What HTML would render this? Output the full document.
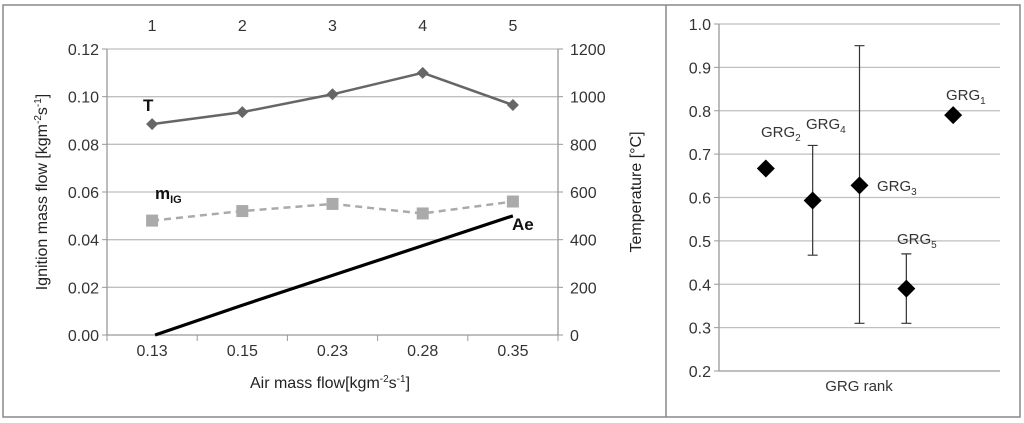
<!DOCTYPE html>
<html><head><meta charset="utf-8"><style>
body{margin:0;background:#fff;}
svg{display:block;font-family:"Liberation Sans",sans-serif;}
</style></head><body>
<svg width="1024" height="423" viewBox="0 0 1024 423">
<rect x="3" y="5" width="1017" height="412" fill="#fff" stroke="#888" stroke-width="1.5"/>
<line x1="666" y1="5" x2="666" y2="417" stroke="#888" stroke-width="1.5"/>
<g id="left"></g>
<g id="right"></g>
</svg>
<script>
const cats=["0.13","0.15","0.23","0.28","0.35"];
const topCats=["1","2","3","4","5"];
const tempVals=[885,935,1010,1100,965];
const migVals=[0.048,0.052,0.055,0.051,0.056];
const aeVals=[0,0.0125,0.025,0.0375,0.05];
const leftTicks=[0,0.02,0.04,0.06,0.08,0.10,0.12];
const rightTicks=[0,200,400,600,800,1000,1200];
const grgVals=[0.667,0.593,0.628,0.39,0.79];
const grgLow=[null,0.467,0.31,0.31,null];
const grgHigh=[null,0.72,0.95,0.47,null];
const grgLabels=["2","4","3","5","1"];
const grgTicks=[0.2,0.3,0.4,0.5,0.6,0.7,0.8,0.9,1.0];

const NS="http://www.w3.org/2000/svg";
function mk(p,t,a,txt){const e=document.createElementNS(NS,t);for(const k in a)e.setAttribute(k,a[k]);if(txt!==undefined)e.textContent=txt;p.appendChild(e);return e;}

// left chart
const L=document.getElementById('left');
const x0=107,x1=558,yTop=49,yBot=335;
const bw=(x1-x0)/cats.length;
const xc=i=>x0+bw*(i+0.5);
const yL=v=>yBot-(v/0.12)*(yBot-yTop);
const yR=v=>yBot-(v/1200)*(yBot-yTop);
leftTicks.forEach((t,i)=>{
  if(i>0){const g=mk(L,'line',{x1:x0,x2:x1,y1:yL(t),y2:yL(t),stroke:'#bfbfbf','stroke-width':1.3});
  }
  const tl=mk(L,'line',{x1:x0-5,x2:x0,y1:yL(t),y2:yL(t),stroke:'#999'});
  const lb=mk(L,'text',{x:x0-8,y:yL(t)+6,'text-anchor':'end','font-size':16,fill:'#333'},t.toFixed(2));
  
});
rightTicks.forEach(t=>{
  mk(L,'line',{x1:x1,x2:x1+5,y1:yR(t),y2:yR(t),stroke:'#999'});
  const lb=mk(L,'text',{x:x1+12,y:yR(t)+6,'font-size':16,fill:'#333'},String(t));
  
});
mk(L,'line',{x1:x0,x2:x0,y1:yTop,y2:yBot,stroke:'#999','stroke-width':1.3});
mk(L,'line',{x1:x1,x2:x1,y1:yTop,y2:yBot,stroke:'#999','stroke-width':1.3});
mk(L,'line',{x1:x0,x2:x1,y1:yBot,y2:yBot,stroke:'#999','stroke-width':1.3});
cats.forEach((c,i)=>{
  mk(L,'line',{x1:x0+bw*i,x2:x0+bw*i,y1:yBot,y2:yBot+6,stroke:'#999'});
  const lb=mk(L,'text',{x:xc(i),y:356,'text-anchor':'middle','font-size':16,fill:'#333'},c);
  
  const tp=mk(L,'text',{x:xc(i),y:31,'text-anchor':'middle','font-size':16,fill:'#333'},topCats[i]);
  
});
mk(L,'line',{x1:x0+bw*5,x2:x0+bw*5,y1:yBot,y2:yBot+6,stroke:'#999'});
// Ae line
const ae=mk(L,'polyline',{points:aeVals.map((v,i)=>(xc(i)+(i==0?3:0))+','+yL(v)).join(' '),fill:'none',stroke:'#000','stroke-width':3.2});

// mIG
const mg=mk(L,'polyline',{points:migVals.map((v,i)=>xc(i)+','+yL(v)).join(' '),fill:'none',stroke:'#aaa','stroke-width':2.5,'stroke-dasharray':'7,5'});

migVals.forEach((v,i)=>{const r=mk(L,'rect',{x:xc(i)-6,y:yL(v)-6,width:12,height:12,fill:'#aaa'});
});
// T
const tl=mk(L,'polyline',{points:tempVals.map((v,i)=>xc(i)+','+yR(v)).join(' '),fill:'none',stroke:'#666','stroke-width':2.5});

tempVals.forEach((v,i)=>{const x=xc(i),y=yR(v);const d=mk(L,'polygon',{points:`${x},${y-6} ${x+6},${y} ${x},${y+6} ${x-6},${y}`,fill:'#666'});
});
let t;
t=mk(L,'text',{x:143,y:111,'font-size':17,'font-weight':'bold',fill:'#111'},'T');
t=mk(L,'text',{x:155,y:199,'font-size':17,'font-weight':'bold',fill:'#111'});
mk(t,'tspan',{},'m');mk(t,'tspan',{'font-size':11,dy:4},'IG');
t=mk(L,'text',{x:512,y:230,'font-size':17,'font-weight':'bold',fill:'#111'},'Ae');
t=mk(L,'text',{x:330,y:388,'text-anchor':'middle','font-size':16,fill:'#222'});
mk(t,'tspan',{},'Air mass flow[kgm');mk(t,'tspan',{'font-size':10,dy:-6},'-2');mk(t,'tspan',{dy:6},'s');mk(t,'tspan',{'font-size':10,dy:-6},'-1');mk(t,'tspan',{dy:6},']');
t=mk(L,'text',{x:0,y:0,'text-anchor':'middle','font-size':16,fill:'#222',transform:'translate(47,192) rotate(-90)'});
mk(t,'tspan',{},'Ignition mass flow [kgm');mk(t,'tspan',{'font-size':10,dy:-6},'-2');mk(t,'tspan',{dy:6},'s');mk(t,'tspan',{'font-size':10,dy:-6},'-1');mk(t,'tspan',{dy:6},']');
t=mk(L,'text',{x:0,y:0,'text-anchor':'middle','font-size':16,fill:'#222',transform:'translate(641,192) rotate(-90)'},'Temperature [°C]');

// right chart
const R=document.getElementById('right');
const rx0=719,rx1=1000,ry0=24,ry1=371;
const ry=v=>ry1-(v-0.2)/0.8*(ry1-ry0);
const rslot=(rx1-rx0)/6;
const rxc=i=>rx0+rslot*(i+1);
grgTicks.forEach((g,i)=>{
  if(i>0){const l=mk(R,'line',{x1:rx0,x2:rx1,y1:ry(g),y2:ry(g),stroke:'#bfbfbf','stroke-width':1.3});}
  mk(R,'line',{x1:rx0-5,x2:rx0,y1:ry(g),y2:ry(g),stroke:'#999'});
  const lb=mk(R,'text',{x:rx0-8,y:ry(g)+6,'text-anchor':'end','font-size':16,fill:'#333'},g.toFixed(1));
  
});
mk(R,'line',{x1:rx0,x2:rx0,y1:ry0,y2:ry1,stroke:'#999','stroke-width':1.3});
mk(R,'line',{x1:rx0,x2:rx1,y1:ry1,y2:ry1,stroke:'#999','stroke-width':1.3});
grgVals.forEach((v,i)=>{
  const x=rxc(i);
  if(grgLow[i]!==null){
    const e=mk(R,'path',{d:`M${x},${ry(grgLow[i])}V${ry(grgHigh[i])}M${x-5},${ry(grgLow[i])}H${x+5}M${x-5},${ry(grgHigh[i])}H${x+5}`,stroke:'#333','stroke-width':1.2,fill:'none'});
    
  }
  const y=ry(v);
  const d=mk(R,'polygon',{points:`${x},${y-9} ${x+9},${y} ${x},${y+9} ${x-9},${y}`,fill:'#000'});
  
});
const lp=[[761,137],[806,129],[877,191],[897,244],[946,100]];
grgLabels.forEach((s,i)=>{
  const tx=mk(R,'text',{x:lp[i][0],y:lp[i][1],'font-size':15,fill:'#333'});
  
  mk(tx,'tspan',{},'GRG');mk(tx,'tspan',{'font-size':10,dy:4},s);
});
t=mk(R,'text',{x:859,y:391,'text-anchor':'middle','font-size':15,fill:'#333'},'GRG rank');
</script>
</body></html>
